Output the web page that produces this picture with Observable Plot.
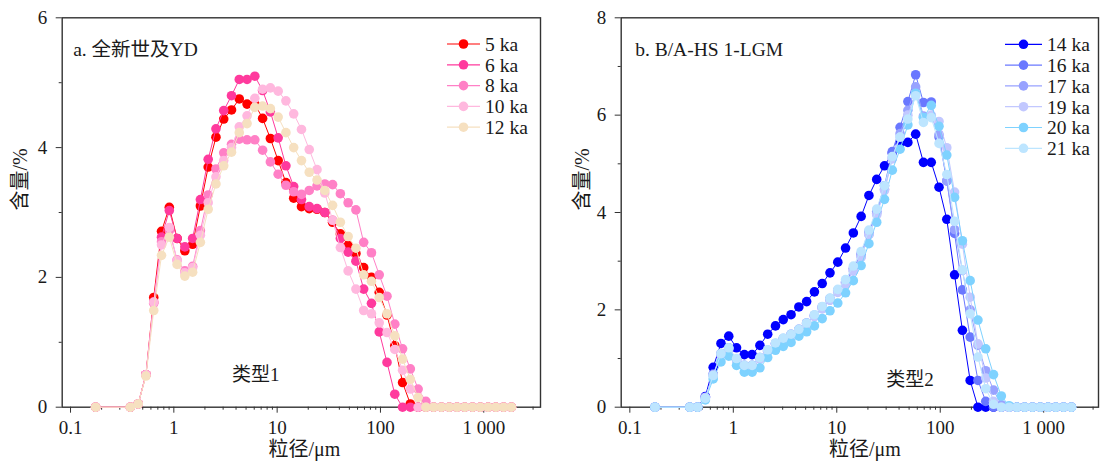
<!DOCTYPE html>
<html>
<head>
<meta charset="utf-8">
<script src="https://cdn.jsdelivr.net/npm/d3@7"></script>
<script src="https://cdn.jsdelivr.net/npm/@observablehq/plot@0.6"></script>
<style>
  html, body { margin: 0; padding: 0; background: #fff; }
  #wrap { position: relative; width: 1100px; height: 468px; overflow: hidden; }
  #wrap svg { position: absolute; top: 0; }
  #wrap svg .legend text { font-family: "Liberation Serif", "Times New Roman", "Noto Sans CJK SC", serif; }
</style>
</head>
<body>
<div id="wrap"></div>
<script>
// ---------- data ----------
const grainSize = [0.175, 0.38, 0.452, 0.537, 0.639, 0.760, 0.904, 1.075, 1.278, 1.520, 1.808,
  2.150, 2.557, 3.040, 3.616, 4.300, 5.114, 6.081, 7.232, 8.600, 10.23,
  12.16, 14.46, 17.20, 20.45, 24.32, 28.93, 34.40, 40.91, 48.65, 57.86,
  68.80, 81.82, 97.30, 115.7, 137.6, 163.7, 194.6, 231.5, 275.2, 327.3,
  389.3, 462.9, 550.5, 654.7, 778.6, 925.9, 1101, 1309, 1557, 1852];

const xTickValues = [0.1, 1, 10, 100, 1000];
const xTickLabels = ["0.1", "1", "10", "100", "1 000"];
const xMinorTicks = [0.2, 0.3, 0.4, 0.5, 0.6, 0.7, 0.8, 0.9, 2, 3, 4, 5, 6, 7, 8, 9,
  20, 30, 40, 50, 60, 70, 80, 90, 200, 300, 400, 500, 600, 700, 800, 900, 2000, 3000];

const yTicksA = [0, 2, 4, 6];
const yMinorA = [1, 3, 5];
const yTicksB = [0, 2, 4, 6, 8];
const yMinorB = [1, 3, 5, 7];

const seriesA = ["5 ka", "6 ka", "8 ka", "10 ka", "12 ka"];
const colorsA = ["#FF0000", "#FF3A9D", "#FF80C6", "#FFB8DE", "#F6E0C0"];

const ka5 = [0, 0, 0.05, 0.5, 1.69, 2.71, 3.08, 2.6, 2.41, 2.51, 3.1,
  3.7, 4.16, 4.44, 4.58, 4.75, 4.67, 4.67, 4.45, 4.14, 3.8,
  3.46, 3.22, 3.09, 3.06, 3.05, 3.0, 2.85, 2.67, 2.49, 2.37,
  2.15, 2.0, 1.77, 1.42, 0.95, 0.38, 0.05, 0, 0, 0,
  0, 0, 0, 0, 0, 0, 0, 0, 0, 0];
const ka6 = [0, 0, 0.05, 0.5, 1.62, 2.62, 3.03, 2.6, 2.47, 2.6, 3.2,
  3.82, 4.29, 4.57, 4.8, 5.05, 5.05, 5.1, 4.88, 4.55, 4.15,
  3.72, 3.4, 3.2, 3.09, 3.06, 3.0, 2.88, 2.6, 2.39, 2.25,
  1.82, 1.6, 1.16, 0.69, 0.2, 0, 0, 0, 0, 0,
  0, 0, 0, 0, 0, 0, 0, 0, 0, 0];
const ka8 = [0, 0, 0.05, 0.5, 1.6, 2.55, 2.72, 2.27, 2.1, 2.17, 2.72,
  3.27, 3.67, 3.92, 4.05, 4.13, 4.12, 4.12, 3.96, 3.78, 3.59,
  3.42, 3.32, 3.28, 3.34, 3.41, 3.44, 3.43, 3.29, 3.15, 3.04,
  2.54, 2.38, 2.04, 1.71, 1.28, 0.9, 0.59, 0.28, 0.09, 0,
  0, 0, 0, 0, 0, 0, 0, 0, 0, 0];
const ka10 = [0, 0, 0.05, 0.5, 1.62, 2.5, 2.77, 2.26, 2.07, 2.15, 2.65,
  3.15, 3.55, 3.8, 4.0, 4.32, 4.49, 4.76, 4.9, 4.92, 4.87,
  4.72, 4.52, 4.28, 3.97, 3.66, 3.3, 2.88, 2.46, 2.1, 1.82,
  1.49, 1.44, 1.3, 1.15, 0.89, 0.57, 0.28, 0, 0, 0,
  0, 0, 0, 0, 0, 0, 0, 0, 0, 0];
const ka12 = [0, 0, 0.05, 0.48, 1.49, 2.34, 2.62, 2.2, 2.02, 2.08, 2.54,
  3.05, 3.44, 3.72, 3.93, 4.23, 4.37, 4.62, 4.64, 4.6, 4.47,
  4.23, 4.0, 3.8, 3.62, 3.5, 3.34, 3.11, 2.85, 2.63, 2.45,
  2.04, 1.94, 1.69, 1.44, 1.1, 0.74, 0.43, 0.15, 0, 0,
  0, 0, 0, 0, 0, 0, 0, 0, 0, 0];

const seriesB = ["14 ka", "16 ka", "17 ka", "19 ka", "20 ka", "21 ka"];
const colorsB = ["#0000FF", "#6A78FF", "#98A2FF", "#C2C8FF", "#7ED2FF", "#BDE5FF"];

const ka14 = [0, 0, 0, 0.22, 0.82, 1.31, 1.46, 1.22, 1.08, 1.08, 1.27,
  1.5, 1.67, 1.8, 1.9, 2.06, 2.17, 2.37, 2.54, 2.76, 2.98,
  3.27, 3.58, 3.92, 4.35, 4.68, 4.96, 5.22, 5.42, 5.44, 5.61,
  5.03, 5.03, 4.52, 3.86, 2.72, 1.58, 0.55, 0, 0, 0,
  0, 0, 0, 0, 0, 0, 0, 0, 0, 0];
const ka16 = [0, 0, 0, 0.2, 0.68, 1.1, 1.22, 0.98, 0.86, 0.86, 1.02,
  1.17, 1.31, 1.41, 1.5, 1.6, 1.73, 1.89, 2.06, 2.23, 2.4,
  2.57, 2.85, 3.15, 3.6, 4.02, 4.55, 5.25, 5.75, 6.28, 6.83,
  6.26, 6.27, 5.55, 4.65, 3.57, 2.41, 1.44, 0.55, 0.12, 0,
  0, 0, 0, 0, 0, 0, 0, 0, 0, 0];
const ka17 = [0, 0, 0, 0.2, 0.66, 1.08, 1.2, 0.97, 0.85, 0.85, 1.0,
  1.15, 1.3, 1.4, 1.48, 1.58, 1.72, 1.87, 2.04, 2.2, 2.37,
  2.55, 2.8, 3.1, 3.55, 3.98, 4.48, 5.12, 5.62, 6.1, 6.58,
  5.98, 5.98, 5.6, 4.65, 3.65, 2.81, 2.0, 1.27, 0.75, 0.35,
  0.05, 0, 0, 0, 0, 0, 0, 0, 0, 0];
const ka19 = [0, 0, 0, 0.2, 0.66, 1.08, 1.2, 0.97, 0.84, 0.84, 1.0,
  1.15, 1.3, 1.4, 1.48, 1.58, 1.7, 1.86, 2.02, 2.2, 2.36,
  2.52, 2.8, 3.08, 3.55, 3.95, 4.45, 5.1, 5.55, 6.0, 6.42,
  5.95, 6.0, 5.87, 5.33, 4.42, 3.35, 2.26, 1.3, 0.6, 0.12,
  0, 0, 0, 0, 0, 0, 0, 0, 0, 0];
const ka20 = [0, 0, 0, 0.15, 0.58, 0.93, 1.05, 0.86, 0.72, 0.72, 0.81,
  1.02, 1.17, 1.25, 1.33, 1.46, 1.55, 1.67, 1.82, 1.98, 2.14,
  2.35, 2.6, 2.91, 3.36, 3.8, 4.27, 4.87, 5.3, 5.8, 6.45,
  5.95, 6.2, 5.77, 5.18, 4.31, 3.42, 2.6, 1.79, 1.2, 0.67,
  0.23, 0.03, 0, 0, 0, 0, 0, 0, 0, 0];
const ka21 = [0, 0, 0, 0.18, 0.65, 1.1, 1.22, 1.0, 0.86, 0.86, 1.02,
  1.18, 1.32, 1.42, 1.5, 1.6, 1.73, 1.9, 2.07, 2.24, 2.42,
  2.62, 2.9, 3.2, 3.64, 4.07, 4.55, 5.15, 5.55, 5.92, 6.4,
  5.85, 5.95, 5.42, 4.78, 3.82, 2.82, 1.92, 1.03, 0.38, 0.06,
  0, 0, 0, 0, 0, 0, 0, 0, 0, 0];

const titleA = "a. 全新世及YD";
const titleB = "b. B/A-HS 1-LGM";
const typeA = [{text: "类型1", size: 6.2, value: 0.49}];
const typeB = [{text: "类型2", size: 50.9, value: 0.57}];
const xLabel = "粒径/μm";
const yLabel = "含量/%";

// ---------- drawing ----------
const FONT = '"Liberation Serif", "Times New Roman", "Noto Sans CJK SC", serif';
const INK = "#1a1a1a";
const AXIS = "#333";

function panel(cfg) {
  const rows = [];
  cfg.names.forEach((name, i) =>
    cfg.values[i].forEach((v, j) => rows.push({name, size: grainSize[j], value: v})));
  const fmt = new Map(xTickValues.map((v, i) => [v, xTickLabels[i]]));

  const marks = [
    Plot.frame({stroke: AXIS, strokeWidth: 1.4}),
    Plot.axisX(xTickValues, {anchor: "bottom", tickSize: 6, tickPadding: 7, tickFormat: d => fmt.get(d),
      fontSize: 19, stroke: AXIS, fill: INK, label: null}),
    Plot.axisX(xMinorTicks, {anchor: "bottom", tickSize: 3, tickFormat: () => "", stroke: AXIS, label: null}),
    Plot.axisY(cfg.yTicks, {anchor: "left", tickSize: 6, tickPadding: 9, fontSize: 19,
      tickFormat: d => String(d), stroke: AXIS, fill: INK, label: null}),
    Plot.axisY(cfg.yMinor, {anchor: "left", tickSize: 3, tickFormat: () => "", stroke: AXIS, label: null})
  ];
  cfg.names.forEach(name => {
    const d = rows.filter(r => r.name === name);
    marks.push(Plot.line(d, {x: "size", y: "value", stroke: "name", strokeWidth: 1}));
    marks.push(Plot.dot(d, {x: "size", y: "value", fill: "name", r: 4.8}));
  });
  marks.push(
    Plot.text([cfg.title], {frameAnchor: "top-left", dx: cfg.titleDx, dy: 24, textAnchor: "start",
      fontSize: 19.5, fill: INK}),
    Plot.text(cfg.type, {x: "size", y: "value", text: "text", fontSize: 19, fill: INK}),
    Plot.text([xLabel], {frameAnchor: "bottom", dx: cfg.xLabelDx, dy: 49, fontSize: 20, fill: INK}),
    Plot.text([yLabel], {frameAnchor: "left", dx: cfg.yLabelDx, dy: -2, rotate: -90, fontSize: 20, fill: INK})
  );

  const svg = Plot.plot({
    width: 550, height: 468,
    marginLeft: cfg.marginLeft, marginRight: cfg.marginRight, marginTop: 17.3, marginBottom: 61.3,
    style: {fontFamily: FONT, fontSize: "19px", color: INK, background: "transparent", overflow: "visible"},
    x: {type: "log", domain: cfg.xDomain},
    y: {domain: cfg.yDomain},
    color: {domain: cfg.names, range: cfg.colors},
    marks
  });

  // legend
  const g = d3.select(svg).append("g").attr("class", "legend")
    .style("font-family", FONT).style("font-size", "19.5px").attr("text-anchor", "start");
  cfg.names.forEach((name, i) => {
    const y = cfg.legendY + i * cfg.legendStep;
    g.append("line").attr("x1", cfg.legendX0).attr("x2", cfg.legendX1).attr("y1", y).attr("y2", y)
      .attr("stroke", cfg.colors[i]).attr("stroke-width", 1.2);
    g.append("circle").attr("cx", (cfg.legendX0 + cfg.legendX1) / 2).attr("cy", y).attr("r", 4.8)
      .attr("fill", cfg.colors[i]);
    g.append("text").attr("x", cfg.legendX1 + 5).attr("y", y).attr("dy", "0.35em")
      .attr("text-anchor", "start").attr("fill", INK).text(name);
  });
  return svg;
}

const wrap = document.getElementById("wrap");

const left = panel({
  names: seriesA, colors: colorsA, values: [ka5, ka6, ka8, ka10, ka12],
  xDomain: [0.08308, 3540], yDomain: [0, 6], yTicks: yTicksA, yMinor: yMinorA,
  marginLeft: 61.7, marginRight: 10,
  title: titleA, titleDx: 11, type: typeA, xLabelDx: 3, yLabelDx: -42,
  legendX0: 447, legendX1: 480, legendY: 44, legendStep: 20.8
});
left.style.left = "0px";
wrap.appendChild(left);

const right = panel({
  names: seriesB, colors: colorsB, values: [ka14, ka16, ka17, ka19, ka20, ka21],
  xDomain: [0.08253, 3384], yDomain: [0, 8], yTicks: yTicksB, yMinor: yMinorB,
  marginLeft: 70.7, marginRight: 2,
  title: titleB, titleDx: 14, type: typeB, xLabelDx: 5, yLabelDx: -39,
  legendX0: 455, legendX1: 492, legendY: 44.3, legendStep: 20.8
});
right.style.left = "550px";
wrap.appendChild(right);
</script>
</body>
</html>
